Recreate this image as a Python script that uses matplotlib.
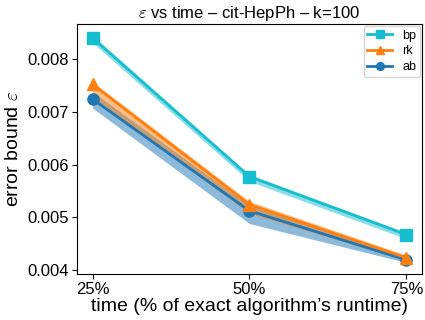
import numpy as np
import matplotlib
matplotlib.use("Agg")
import matplotlib.pyplot as plt

plt.rcParams['font.family'] = ['Liberation Sans', 'DejaVu Sans']
plt.rcParams['mathtext.fontset'] = 'cm'

# dati
tempi = [25, 50, 75]
etichette_x = ["25%", "50%", "75%"]

ab = [0.00724, 0.00512, 0.00419]
ab_lo = [0.00707, 0.00488, 0.00414]
ab_hi = [0.00738, 0.00522, 0.00424]

rk = [0.00752, 0.00524, 0.00423]
rk_lo = [0.00727, 0.00507, 0.00418]
rk_hi = [0.00757, 0.00530, 0.00428]

bp = [0.00840, 0.00577, 0.00467]
bp_lo = [0.00831, 0.00568, 0.00459]
bp_hi = [0.00845, 0.00581, 0.00471]

serie = [
    ("ab", ab, ab_lo, ab_hi, "tab:blue", "o"),
    ("rk", rk, rk_lo, rk_hi, "tab:orange", "^"),
    ("bp", bp, bp_lo, bp_hi, "tab:cyan", "s"),
]

fig = plt.figure(figsize=(4.25, 3.2), dpi=100)
ax = fig.add_axes([0.181, 0.144, 0.812, 0.781])

handles = []
for nome, val, lo, hi, col, mk in serie:
    ax.fill_between(tempi, lo, hi, color=col, alpha=0.5, linewidth=0)
    h, = ax.plot(tempi, val, color=col, marker=mk, markersize=8, linewidth=2, label=nome)
    handles.append(h)

ax.set_xticks(tempi)
ax.set_xticklabels(etichette_x)
ax.set_yticks([0.004, 0.005, 0.006, 0.007, 0.008])
ax.tick_params(labelsize=12, pad=2)
ax.set_xlabel("time (% of exact algorithm’s runtime)", fontsize=14, labelpad=1)
ax.set_ylabel(r"error bound $\varepsilon$", fontsize=14, labelpad=4)
ax.set_title(r"$\varepsilon$ vs time – cit-HepPh – k=100", fontsize=12, pad=4)

leg = ax.legend(handles[::-1], [h.get_label() for h in handles[::-1]],
                loc="upper right", fontsize=9, markerscale=0.7,
                borderaxespad=0.15, handlelength=2.0, labelspacing=0.3,
                borderpad=0.3)

fig.savefig("out.png", dpi=100)
